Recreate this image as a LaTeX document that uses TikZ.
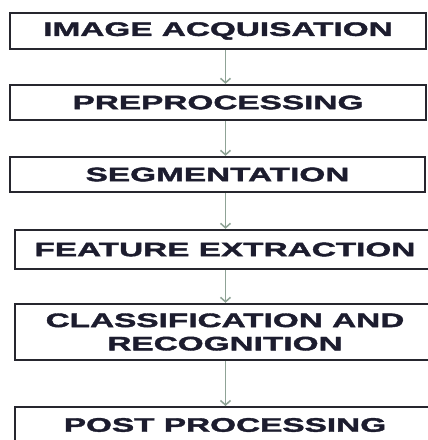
\documentclass[tikz,border=0pt]{standalone}
\usepackage{fontspec}
\usepackage{graphicx}
\usetikzlibrary{arrows.meta}
\newfontfamily\boxfont[FakeStretch=1.71,FakeBold=2]{Liberation Sans Bold}
\definecolor{boxline}{HTML}{26262E}
\definecolor{boxtext}{HTML}{1C1C2E}
\definecolor{arrcol}{HTML}{8FA396}
\tikzset{
  stage/.style={draw=boxline, line width=2.4pt, fill=white, inner sep=0pt,
    font=\boxfont\fontsize{19.5}{23.3}\selectfont, text=boxtext, align=center},
  flowarrow/.style={draw=arrcol, line width=1.5pt,
    -{Straight Barb[length=4.5pt,width=10pt,line width=1.5pt]}}
}
\begin{document}
\begin{tikzpicture}[x=1pt,y=-1pt]
\clip (0,0) rectangle (428,440);
\fill[white] (0,0) rectangle (428,440);
\coordinate (ax) at (225.5,0);
\node[stage, minimum width=416pt, minimum height=36pt] (b1) at (218,31) {IMAGE ACQUISATION};
\node[stage, minimum width=416pt, minimum height=35pt] (b2) at (218,102.5) {PREPROCESSING};
\node[stage, minimum width=415pt, minimum height=35pt] (b3) at (217.5,174.5) {SEGMENTATION};
\node[stage, minimum width=420pt, minimum height=39pt] (b4) at (225,249.5) {FEATURE EXTRACTION};
\node[stage, minimum width=420pt, minimum height=56pt] (b5) at (225,332) {CLASSIFICATION AND\\RECOGNITION};
\node[stage, minimum width=420pt, minimum height=46pt, anchor=north] (b6) at (225,406) {};
\node[font=\boxfont\fontsize{19.5}{23.3}\selectfont, text=boxtext, inner sep=0pt] (t6) at (225,425) {POST PROCESSING};
\draw[flowarrow] (b1.south -| ax) -- (b2.north -| ax);
\draw[flowarrow] (b2.south -| ax) -- (b3.north -| ax);
\draw[flowarrow] (b3.south -| ax) -- (b4.north -| ax);
\draw[flowarrow] (b4.south -| ax) -- (b5.north -| ax);
\draw[flowarrow] (b5.south -| ax) -- (b6.north -| ax);
\end{tikzpicture}
\end{document}
